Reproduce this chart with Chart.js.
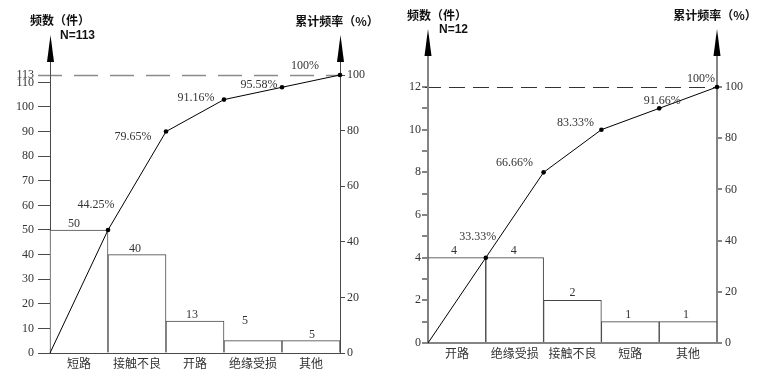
<!DOCTYPE html>
<html><head><meta charset="utf-8">
<script src="https://cdn.jsdelivr.net/npm/chart.js@4.4.1/dist/chart.umd.min.js"></script>
<style>
html,body{margin:0;padding:0;background:#fff;}
#wrap{position:relative;width:766px;height:388px;overflow:hidden;background:#fff;}
canvas{position:absolute;top:0;}
#c1{left:0;} #c2{left:383px;}
</style></head><body>
<div id="wrap"><canvas id="c1" width="383" height="388"></canvas><canvas id="c2" width="383" height="388"></canvas></div>
<script>
// ---------- data ----------
const leftCategories = ['短路', '接触不良', '开路', '绝缘受损', '其他'];
const leftCounts = [50, 40, 13, 5, 5];
const leftCumulative = [0, 44.25, 79.65, 91.16, 95.58, 100];
const leftTotal = 113;
const leftCountTicks = [0, 10, 20, 30, 40, 50, 60, 70, 80, 90, 100, 110, 113];

const rightCategories = ['开路', '绝缘受损', '接触不良', '短路', '其他'];
const rightCounts = [4, 4, 2, 1, 1];
const rightCumulative = [0, 33.33, 66.66, 83.33, 91.66, 100];
const rightTotal = 12;
const rightCountTicks = [0, 1, 2, 3, 4, 5, 6, 7, 8, 9, 10, 11, 12];
const rightCountTickLabels = ['0', '', '2', '', '4', '', '6', '', '8', '', '10', '', '12'];

const percentTicks = [0, 20, 40, 60, 80, 100];
const countTitle = '频数（件）';
const percentTitle = '累计频率（%）';

// ---------- styles ----------
const SERIF = "'Liberation Serif', 'DejaVu Serif', serif";
const CJK = "'Noto Sans CJK SC', 'Noto Sans', sans-serif";

const leftStyle = {
  top: 75, xHeight: 35, yLWidth: 50, yRWidth: 43,
  axisColor: '#4a4a4a', axisWidth: 1, barBorder: '#4a4a4a',
  tickLenL: 12, tickLenR: 5, padL: 4, padR: 2, xPad: 3,
  arrowTip: 35, arrowBase: 62,
  dashStart: 38, dash: [24, 12], dashColor: '#8a8a8a', dashWidth: 1.5,
  pctOffsets: [[-12, -25], [-33, 5], [-28, -2], [-23, -2], [-35, -9]],
  barLabelOffsets: [[-5, 0], [-2, 0], [-3, 0], [-8, -14], [1, 0]],
  titles: [
    {text: countTitle, x: 60, y: 20, align: 'center', font: "bold 12px " + CJK},
    {text: 'N=' + leftTotal, x: 60, y: 36, align: 'left', font: "bold 12px 'Liberation Sans', Arial, sans-serif"},
    {text: percentTitle, x: 337, y: 21, align: 'center', font: "bold 12px " + CJK}
  ]
};
const rightStyle = {
  top: 87, xHeight: 45, yLWidth: 45, yRWidth: 49,
  axisColor: '#858585', axisWidth: 2, barBorder: '#444',
  tickLenL: 6, tickLenR: 5, padL: 1, padR: 3, xPad: 3,
  arrowTip: 29, arrowBase: 56,
  dashStart: 42, dash: [16, 8], dashColor: '#333', dashWidth: 1,
  pctOffsets: [[-8, -21], [-29, -10], [-26, -7], [3, -8], [-16, -8]],
  barLabelOffsets: [[-3, -1], [-1, -1], [0, -1], [-2, -1], [-2, -1]],
  titles: [
    {text: countTitle, x: 54, y: 15, align: 'center', font: "bold 12px " + CJK},
    {text: 'N=' + rightTotal, x: 56, y: 30, align: 'left', font: "bold 12px 'Liberation Sans', Arial, sans-serif"},
    {text: percentTitle, x: 332, y: 15, align: 'center', font: "bold 12px " + CJK}
  ]
};

function pctText(v) { return v === 100 ? '100%' : v.toFixed(2) + '%'; }

function arrow(ctx, x, tip, base) {
  ctx.beginPath();
  ctx.moveTo(x, tip);
  ctx.lineTo(x - 3.5, base);
  ctx.lineTo(x + 3.5, base);
  ctx.closePath();
  ctx.fill();
}

function makeDecor(S, D) {
  return {
    id: 'decor',
    beforeDatasetsDraw(chart) {
      const ctx = chart.ctx, ca = chart.chartArea;
      const y = chart.scales.yL.getPixelForValue(D.total);
      ctx.save();
      ctx.strokeStyle = S.dashColor; ctx.lineWidth = S.dashWidth;
      ctx.setLineDash(S.dash);
      ctx.beginPath();
      ctx.moveTo(S.dashStart, Math.round(y) + 0.5);
      ctx.lineTo(ca.right, Math.round(y) + 0.5);
      ctx.stroke();
      ctx.setLineDash([]);
      ctx.strokeStyle = S.axisColor; ctx.lineWidth = S.axisWidth;
      [ca.left, ca.right].forEach(x => {
        const px = S.axisWidth % 2 ? Math.round(x) + 0.5 : Math.round(x);
        ctx.beginPath();
        ctx.moveTo(px, ca.top + 1);
        ctx.lineTo(px, S.arrowBase);
        ctx.stroke();
        ctx.fillStyle = '#000';
        arrow(ctx, px, S.arrowTip, S.arrowBase);
      });
      ctx.restore();
    },
    afterDatasetsDraw(chart) {
      const ctx = chart.ctx;
      ctx.save();
      ctx.fillStyle = '#333';
      ctx.font = '12px ' + SERIF;
      ctx.textAlign = 'center';
      ctx.textBaseline = 'middle';
      const lm = chart.getDatasetMeta(0);
      lm.data.forEach((pt, i) => {
        if (i === 0) return;
        const o = S.pctOffsets[i - 1];
        ctx.fillText(pctText(D.cumulative[i]), pt.x + o[0], pt.y + o[1]);
      });
      const bm = chart.getDatasetMeta(1);
      ctx.textBaseline = 'bottom';
      bm.data.forEach((b, i) => {
        const o = S.barLabelOffsets[i];
        ctx.fillText(String(D.counts[i]), b.x + o[0], b.y + o[1]);
      });
      ctx.restore();
    },
    afterDraw(chart) {
      const ctx = chart.ctx;
      ctx.save();
      ctx.fillStyle = '#111';
      ctx.textBaseline = 'middle';
      S.titles.forEach(t => {
        ctx.font = t.font;
        ctx.textAlign = t.align;
        ctx.fillText(t.text, t.x, t.y);
      });
      ctx.restore();
    }
  };
}

function build(id, S, D) {
  const n = D.categories.length;
  const barData = D.counts.map((v, i) => ({x: i + 0.5, y: v}));
  const lineData = D.cumulative.map((v, i) => ({x: i, y: v}));
  const tickFont = {family: SERIF, size: 12};
  return new Chart(document.getElementById(id), {
    data: {
      datasets: [
        {type: 'line', data: lineData, xAxisID: 'x', yAxisID: 'yR',
         borderColor: '#000', borderWidth: 1, tension: 0, clip: false,
         pointRadius: lineData.map((p, i) => i === 0 ? 0 : 2.3),
         pointBackgroundColor: '#000', pointBorderColor: '#000', pointBorderWidth: 0, order: 0},
        {type: 'bar', data: barData, xAxisID: 'x', yAxisID: 'yL',
         backgroundColor: '#fff', borderColor: S.barBorder, borderWidth: 1,
         barPercentage: 1, categoryPercentage: 1, order: 1, clip: false}
      ]
    },
    options: {
      responsive: false, animation: false, events: [],
      layout: {padding: {top: S.top, left: 0, right: 0, bottom: 0}},
      plugins: {legend: {display: false}, tooltip: {enabled: false}},
      scales: {
        x: {
          type: 'linear', position: 'bottom', min: 0, max: n, offset: false,
          afterBuildTicks: s => { s.ticks = D.categories.map((c, i) => ({value: i + 0.5})); },
          afterFit: s => { s.height = S.xHeight; },
          ticks: {callback: (v, i) => D.categories[i], autoSkip: false, maxRotation: 0,
                  padding: S.xPad, color: '#333', font: {family: CJK, size: 12}},
          grid: {display: true, drawOnChartArea: false, drawTicks: false, offset: false},
          border: {display: true, color: S.axisColor, width: S.axisWidth}
        },
        yL: {
          type: 'linear', position: 'left', min: 0, max: D.total,
          afterBuildTicks: s => { s.ticks = D.countTicks.map(v => ({value: v})); },
          afterFit: s => { s.width = S.yLWidth; },
          ticks: {callback: (v, i) => D.countTickLabels[i], autoSkip: false,
                  padding: S.padL, color: '#333', font: tickFont},
          grid: {drawOnChartArea: false, drawTicks: true, tickLength: S.tickLenL,
                 color: S.axisColor, lineWidth: S.axisWidth},
          border: {display: true, color: S.axisColor, width: S.axisWidth}
        },
        yR: {
          type: 'linear', position: 'right', min: 0, max: 100,
          afterBuildTicks: s => { s.ticks = percentTicks.map(v => ({value: v})); },
          afterFit: s => { s.width = S.yRWidth; },
          ticks: {callback: v => String(v), autoSkip: false,
                  padding: S.padR, color: '#333', font: tickFont},
          grid: {drawOnChartArea: false, drawTicks: true, tickLength: S.tickLenR,
                 color: S.axisColor, lineWidth: S.axisWidth},
          border: {display: true, color: S.axisColor, width: S.axisWidth}
        }
      }
    },
    plugins: [makeDecor(S, D)]
  });
}

const leftData = {categories: leftCategories, counts: leftCounts, cumulative: leftCumulative,
  total: leftTotal, countTicks: leftCountTicks, countTickLabels: leftCountTicks.map(String)};
const rightData = {categories: rightCategories, counts: rightCounts, cumulative: rightCumulative,
  total: rightTotal, countTicks: rightCountTicks, countTickLabels: rightCountTickLabels};

build('c1', leftStyle, leftData);
build('c2', rightStyle, rightData);
</script>
</body></html>
